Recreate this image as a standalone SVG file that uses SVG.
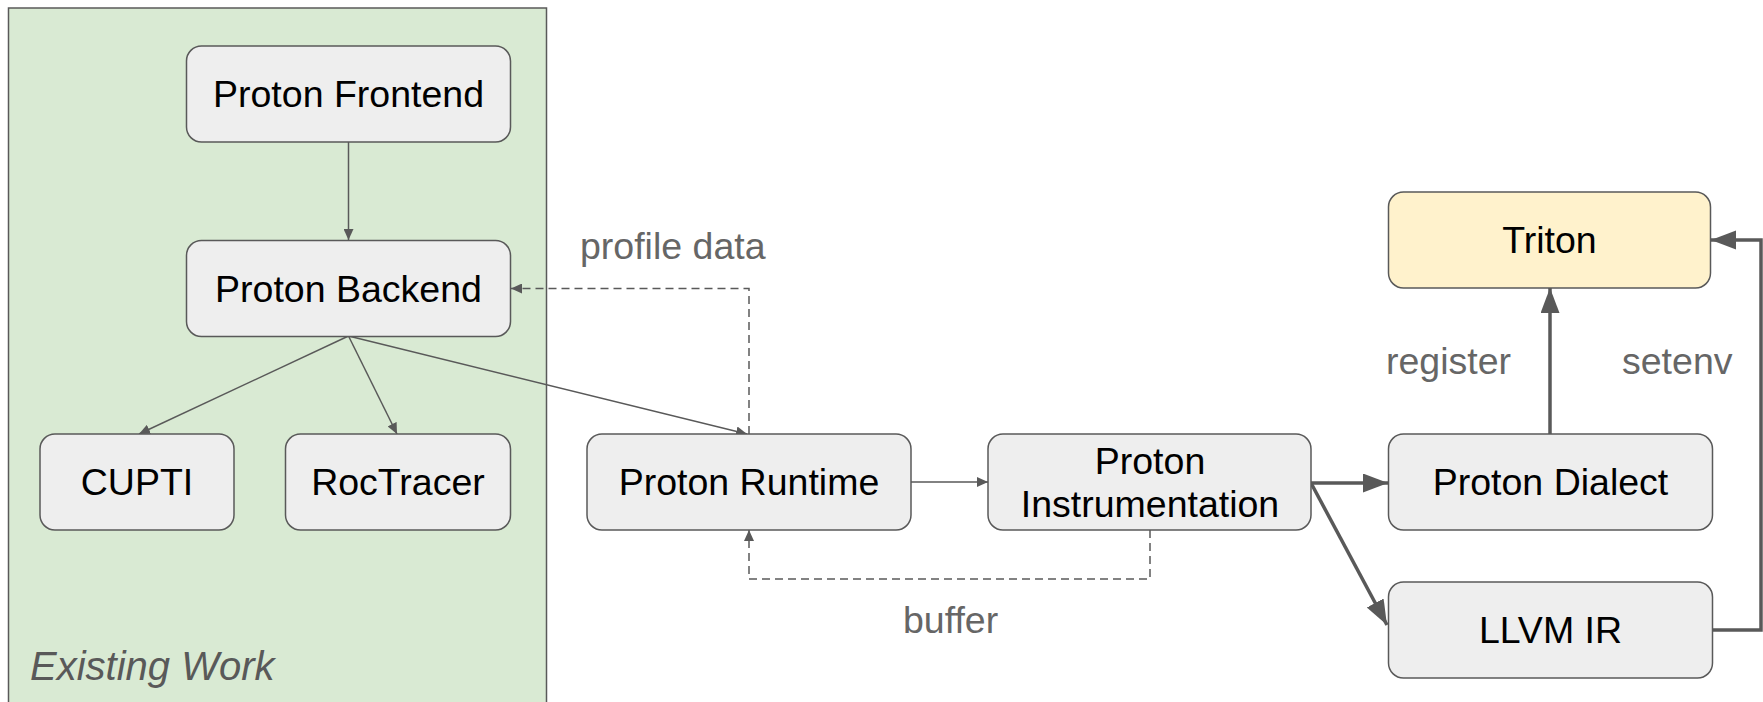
<svg xmlns="http://www.w3.org/2000/svg" width="1763" height="702" viewBox="0 0 1763 702">
<style>
.box{fill:#eeeeee;stroke:#595959;stroke-width:1.5}
.lbl{font-family:"Liberation Sans",Arial,sans-serif;font-size:37.5px;fill:#000;text-anchor:middle}
.note{font-family:"Liberation Sans",Arial,sans-serif;font-size:37.5px;fill:#666666}
.thin{fill:none;stroke:#595959;stroke-width:1.5}
.dash{fill:none;stroke:#595959;stroke-width:1.5;stroke-dasharray:8,5}
.thick{fill:none;stroke:#595959;stroke-width:3.5}
</style>
<defs>
<marker id="ah" markerUnits="userSpaceOnUse" markerWidth="12" markerHeight="10" refX="11" refY="5" orient="auto">
<path d="M0,0 L11,5 L0,10 Z" fill="#595959"/>
</marker>
<marker id="ahb" markerUnits="userSpaceOnUse" markerWidth="26" markerHeight="20" refX="25" refY="9.5" orient="auto">
<path d="M0,0 L25,9.5 L0,19 Z" fill="#595959"/>
</marker>
</defs>
<rect id="existing-work" x="8.5" y="8" width="538" height="710" fill="#d9ead3" stroke="#595959" stroke-width="1.5"/>
<text x="30" y="680" font-family="'Liberation Sans',Arial,sans-serif" font-size="40" font-style="italic" fill="#595959">Existing Work</text>

<g id="connectors">
<line class="thin" x1="348.5" y1="142" x2="348.5" y2="240" marker-end="url(#ah)"/>
<line class="thin" x1="348.5" y1="336" x2="139" y2="434" marker-end="url(#ah)"/>
<line class="thin" x1="348.5" y1="336" x2="397" y2="434" marker-end="url(#ah)"/>
<line class="thin" x1="348.5" y1="336" x2="747" y2="434" marker-end="url(#ah)"/>
<polyline class="dash" points="749,434 749,288.5 511,288.5" marker-end="url(#ah)"/>
<line class="thin" x1="911" y1="482" x2="988" y2="482" marker-end="url(#ah)"/>
<polyline class="dash" points="1150,530 1150,579 749,579 749,530" marker-end="url(#ah)"/>
<line class="thick" x1="1311" y1="483" x2="1388" y2="483" marker-end="url(#ahb)"/>
<line class="thick" x1="1311" y1="483" x2="1387" y2="625" marker-end="url(#ahb)"/>
<line class="thick" x1="1550" y1="434" x2="1550" y2="288" marker-end="url(#ahb)"/>
<polyline class="thick" points="1712,630 1761,630 1761,240 1711,240" marker-end="url(#ahb)"/>
<text class="note" x="580" y="259">profile data</text>
<text class="note" x="903" y="633">buffer</text>
<text class="note" x="1386" y="374">register</text>
<text class="note" x="1622" y="374">setenv</text>
</g>

<g id="proton-frontend"><rect class="box" x="186.5" y="46" width="324" height="96" rx="15"/><text class="lbl" x="348.5" y="107">Proton Frontend</text></g>
<g id="proton-backend"><rect class="box" x="186.5" y="240.5" width="324" height="96" rx="15"/><text class="lbl" x="348.5" y="301.5">Proton Backend</text></g>
<g id="cupti"><rect class="box" x="40" y="434" width="194" height="96" rx="15"/><text class="lbl" x="137" y="495">CUPTI</text></g>
<g id="roctracer"><rect class="box" x="285.5" y="434" width="225" height="96" rx="15"/><text class="lbl" x="398" y="495">RocTracer</text></g>
<g id="proton-runtime"><rect class="box" x="587" y="434" width="324" height="96" rx="15"/><text class="lbl" x="749" y="495">Proton Runtime</text></g>
<g id="proton-instrumentation"><rect class="box" x="988" y="434" width="323" height="96" rx="15"/><text class="lbl" x="1150" y="474">Proton</text><text class="lbl" x="1150" y="517">Instrumentation</text></g>
<g id="triton"><rect x="1388.5" y="192" width="322" height="96" rx="15" fill="#fff2cc" stroke="#595959" stroke-width="1.5"/><text class="lbl" x="1549.5" y="253">Triton</text></g>
<g id="proton-dialect"><rect class="box" x="1388.5" y="434" width="324" height="96" rx="15"/><text class="lbl" x="1550.5" y="495">Proton Dialect</text></g>
<g id="llvm-ir"><rect class="box" x="1388.5" y="582" width="324" height="96" rx="15"/><text class="lbl" x="1550.5" y="643">LLVM IR</text></g>
</svg>
